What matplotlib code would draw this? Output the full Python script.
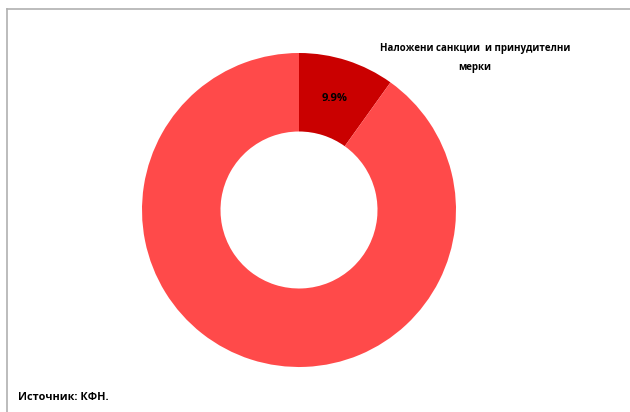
import matplotlib.pyplot as plt
from matplotlib.lines import Line2D

# data
categories = ["Наложени санкции  и принудителни\nмерки", "Останато"]
shares = [9.9, 90.1]
colors = ["#CA0000", "#FF4A4A"]
source_text = "Источник: КФН."

fig = plt.figure(figsize=(6.3, 4.12), dpi=100)

# frame lines (top and left) like the original box
fig.add_artist(Line2D([7 / 630, 1], [1 - 9 / 412, 1 - 9 / 412], color="#b0b0b0", lw=1.2))
fig.add_artist(Line2D([7 / 630, 7 / 630], [0, 1 - 9 / 412], color="#b0b0b0", lw=1.2))

# donut
ax = fig.add_axes([142 / 630, 1 - 367 / 412, 314 / 630, 314 / 412])
wedges, _ = ax.pie(shares, colors=colors, startangle=90, counterclock=False,
                   wedgeprops=dict(width=0.5, edgecolor="none"))
ax.set_xlim(-1, 1)
ax.set_ylim(-1, 1)
ax.set_aspect("equal")

# percentage label on small slice
ax.text(0.23, 0.71, f"{shares[0]}%", ha="center", va="center",
        fontsize=8, fontweight="bold", color="black", family="Open Sans")

# category label outside
fig.text(475 / 630, 1 - 58 / 412, categories[0], ha="center", va="center",
         fontsize=7, fontweight="bold", family="Open Sans", linespacing=1.9)

fig.text(18 / 630, 1 - 398 / 412, source_text, ha="left", va="center",
         fontsize=7.8, fontweight="bold", family="Open Sans")

fig.savefig("out.png", dpi=100)
